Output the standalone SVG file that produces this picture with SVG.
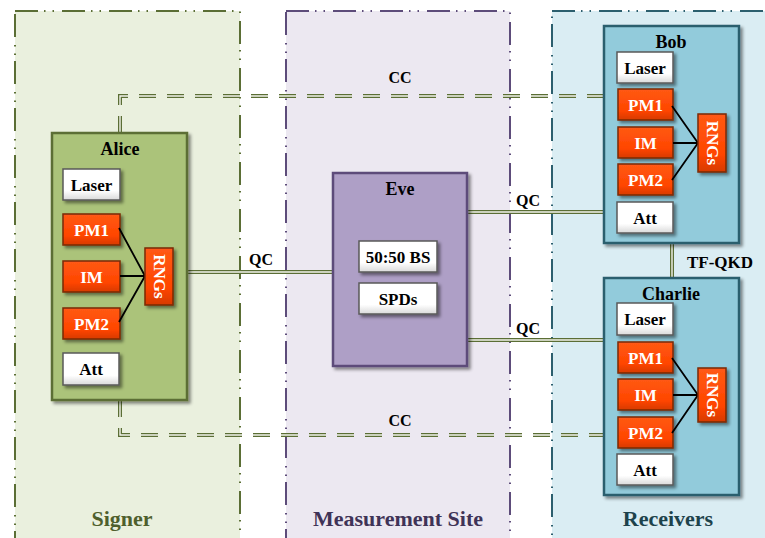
<svg xmlns="http://www.w3.org/2000/svg" width="765" height="538" viewBox="0 0 765 538">
<defs>
<filter id="sh" x="-20%" y="-20%" width="140%" height="140%">
<feDropShadow dx="2.5" dy="2.5" stdDeviation="1.5" flood-color="#000" flood-opacity="0.45"/>
</filter>
<linearGradient id="wg" x1="0" y1="0" x2="0" y2="1">
<stop offset="0" stop-color="#ffffff"/><stop offset="0.7" stop-color="#ffffff"/><stop offset="1" stop-color="#d9d9d9"/>
</linearGradient>
<linearGradient id="og" x1="0" y1="0" x2="0" y2="1">
<stop offset="0" stop-color="#ff5a14"/><stop offset="0.7" stop-color="#ff4500"/><stop offset="1" stop-color="#d63a00"/>
</linearGradient>
</defs>
<style>
text{font-family:"Liberation Serif","Times New Roman",serif;font-weight:bold;text-anchor:middle;dominant-baseline:central}
.zone{stroke-width:2;stroke-dasharray:23 6 1.5 7 1.5 8}
.wb{fill:url(#wg);stroke:#5a5a5a;stroke-width:1.5;filter:url(#sh)}
.ob{fill:url(#og);stroke:#7a2a08;stroke-width:1.5;filter:url(#sh)}
.wt{font-size:17px;fill:#000}
.ot{font-size:17px;fill:#fff}
.title{font-size:18px;fill:#000}
.lbl{font-size:16px;fill:#000}
.zl{font-size:22px}
.lk{stroke:#000;stroke-width:1.8;fill:none}
.dout{fill:none;stroke:#5b6e35;stroke-width:4}
.din{fill:none;stroke:#f2f4ec;stroke-width:1.4}
.cc{stroke-dasharray:17 11}
</style>

<g id="zones">
<rect x="15" y="11" width="225" height="540" fill="#eaf0de" stroke="#5b6e35" class="zone"/>
<rect x="286" y="11" width="224" height="540" fill="#ece8f1" stroke="#5d4c7a" class="zone"/>
<rect x="552" y="11" width="230" height="540" fill="#daedf3" stroke="#2c5f6e" class="zone"/>
<text x="122" y="518" class="zl" fill="#4f5f2d">Signer</text>
<text x="398" y="518" class="zl" fill="#3f3357">Measurement Site</text>
<text x="668" y="518" class="zl" fill="#1d434c">Receivers</text>
</g>

<g id="connectors">
<path class="dout cc" d="M120 133 V96 H604"/>
<path class="din cc" d="M120 133 V96 H604"/>
<path class="dout cc" d="M120 400 V435 H604"/>
<path class="din cc" d="M120 400 V435 H604"/>
<path class="dout" d="M187 272 H333"/>
<path class="din" d="M187 272 H333"/>
<path class="dout" d="M467 212 H604"/>
<path class="din" d="M467 212 H604"/>
<path class="dout" d="M467 340 H604"/>
<path class="din" d="M467 340 H604"/>
<path class="dout" d="M672 243 V278"/>
<path class="din" d="M672 243 V278"/>
<text x="400" y="77" class="lbl">CC</text>
<text x="400" y="420" class="lbl">CC</text>
<text x="261" y="259" class="lbl">QC</text>
<text x="528" y="200" class="lbl">QC</text>
<text x="528" y="328" class="lbl">QC</text>
<text x="720" y="262" class="lbl" style="font-size:17px">TF-QKD</text>
</g>

<g id="alice">
<rect x="52" y="133" width="135" height="267" fill="#abc37a" stroke="#5b6e35" stroke-width="2.5" filter="url(#sh)"/>
<text x="120" y="149" class="title">Alice</text>
<rect x="63" y="169" width="57" height="31" class="wb"/><text x="91.5" y="185" class="wt">Laser</text>
<rect x="63" y="214" width="57" height="31" class="ob"/><text x="91.5" y="230" class="ot">PM1</text>
<rect x="63" y="261" width="57" height="31" class="ob"/><text x="91.5" y="277" class="ot">IM</text>
<rect x="63" y="308" width="57" height="31" class="ob"/><text x="91.5" y="324" class="ot">PM2</text>
<rect x="63" y="353" width="56" height="32" class="wb"/><text x="91" y="369.5" class="wt">Att</text>
<path class="lk" d="M119 228 L145 276 M120 276 H145 M119 322 L145 276"/>
<rect x="145" y="248" width="28" height="57" class="ob"/>
<text x="159" y="276.5" class="ot" transform="rotate(90 159 276.5)">RNGs</text>
</g>

<g id="eve">
<rect x="333" y="173" width="134" height="193" fill="#ae9fc6" stroke="#5d4c7a" stroke-width="2.5" filter="url(#sh)"/>
<text x="400" y="189" class="title">Eve</text>
<rect x="359" y="241" width="78" height="31" class="wb"/><text x="398" y="257" class="wt">50:50 BS</text>
<rect x="359" y="283" width="78" height="31" class="wb"/><text x="398" y="299" class="wt">SPDs</text>
</g>

<g id="bob">
<rect x="604" y="26" width="135" height="217" fill="#92cbdb" stroke="#2c5f6e" stroke-width="2.5" filter="url(#sh)"/>
<text x="671" y="42" class="title">Bob</text>
<rect x="617" y="52" width="56" height="31" class="wb"/><text x="645" y="68" class="wt">Laser</text>
<rect x="618" y="89" width="55" height="31" class="ob"/><text x="645.5" y="105" class="ot">PM1</text>
<rect x="618" y="127" width="55" height="31" class="ob"/><text x="645.5" y="143" class="ot">IM</text>
<rect x="618" y="164" width="55" height="31" class="ob"/><text x="645.5" y="180" class="ot">PM2</text>
<rect x="617" y="202" width="56" height="31" class="wb"/><text x="645" y="218" class="wt">Att</text>
<path class="lk" d="M672 106 L698 143 M673 143 H698 M672 180 L698 143"/>
<rect x="698" y="114" width="28" height="58" class="ob"/>
<text x="712" y="143" class="ot" transform="rotate(90 712 143)">RNGs</text>
</g>

<g id="charlie">
<rect x="604" y="278" width="135" height="217" fill="#92cbdb" stroke="#2c5f6e" stroke-width="2.5" filter="url(#sh)"/>
<text x="671" y="294" class="title">Charlie</text>
<rect x="617" y="303" width="56" height="32" class="wb"/><text x="645" y="319.5" class="wt">Laser</text>
<rect x="618" y="342" width="55" height="31" class="ob"/><text x="645.5" y="358" class="ot">PM1</text>
<rect x="618" y="379" width="55" height="31" class="ob"/><text x="645.5" y="395" class="ot">IM</text>
<rect x="618" y="417" width="55" height="31" class="ob"/><text x="645.5" y="433" class="ot">PM2</text>
<rect x="617" y="454" width="56" height="31" class="wb"/><text x="645" y="470" class="wt">Att</text>
<path class="lk" d="M672 358 L698 395 M673 395 H698 M672 433 L698 395"/>
<rect x="698" y="368" width="28" height="54" class="ob"/>
<text x="712" y="395" class="ot" transform="rotate(90 712 395)">RNGs</text>
</g>
</svg>
